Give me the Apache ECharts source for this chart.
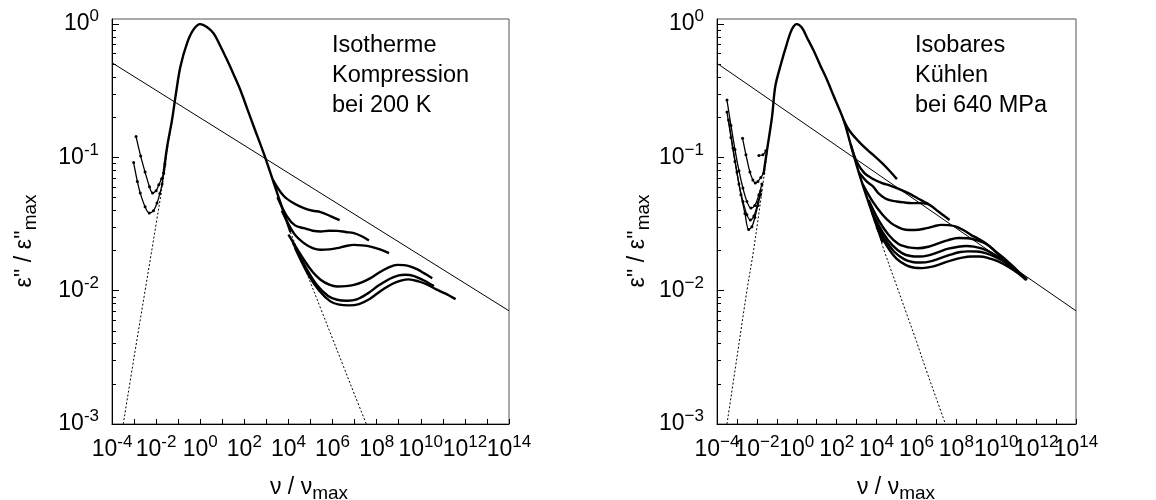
<!DOCTYPE html>
<html><head><meta charset="utf-8">
<script src="https://cdn.jsdelivr.net/npm/echarts@6/dist/echarts.min.js"></script>
<style>html,body{margin:0;padding:0;background:#fff}#c{width:1156px;height:500px}</style>
</head><body><div id="c"></div>
<script>
// All points: [log10(nu/nu_max), log10(eps''/eps''_max)]
// ---- left panel: Isotherme Kompression bei 200 K ----
const leftMaster = [[-1.66,-1.118],[-1.5,-0.92],[-1.28,-0.72],[-1.1,-0.52],[-0.9,-0.32],[-0.6,-0.144],[-0.3,-0.04],[0,0],[0.3,-0.022],[0.61,-0.07],[0.9,-0.16],[1.22,-0.27],[1.52,-0.38],[1.82,-0.494],[2.12,-0.63],[2.43,-0.77],[2.88,-0.97],[3.19,-1.12],[3.49,-1.268],[3.8,-1.42],[4.09,-1.56]];
const leftU1 = [[-2.91,-0.844],[-2.7,-0.99],[-2.5,-1.11],[-2.3,-1.22],[-2.16,-1.268],[-2.0,-1.25],[-1.88,-1.206],[-1.75,-1.16],[-1.66,-1.118]];
const leftU2 = [[-3.02,-1.039],[-2.85,-1.18],[-2.72,-1.268],[-2.5,-1.37],[-2.31,-1.418],[-2.12,-1.4],[-1.96,-1.343],[-1.83,-1.27],[-1.73,-1.2],[-1.6,-1.05]];
const leftA = [[3.3,-1.17],[3.79,-1.29],[4.3,-1.35],[4.7,-1.38],[5.1,-1.4],[5.455,-1.41],[5.9,-1.44],[6.32,-1.47]];
const leftB = [[3.5,-1.3],[3.94,-1.444],[4.3,-1.51],[4.7,-1.531],[5.1,-1.55],[5.455,-1.556],[5.85,-1.55],[6.21,-1.551],[6.6,-1.56],[6.97,-1.568],[7.3,-1.59],[7.65,-1.624]];
const leftC = [[3.7,-1.4],[4.24,-1.568],[4.7,-1.643],[5.1,-1.68],[5.455,-1.693],[5.85,-1.69],[6.21,-1.681],[6.6,-1.665],[6.97,-1.656],[7.35,-1.66],[7.72,-1.669],[8.15,-1.69],[8.56,-1.718]];
const leftD = [[4.0,-1.58],[4.7,-1.768],[5.1,-1.86],[5.455,-1.918],[5.85,-1.955],[6.21,-1.969],[6.6,-1.966],[6.97,-1.956],[7.35,-1.935],[7.72,-1.906],[8.1,-1.865],[8.48,-1.831],[8.94,-1.806],[9.24,-1.808],[9.54,-1.819],[9.85,-1.84],[10.14,-1.868],[10.52,-1.906]];
const leftE = [[4.2,-1.64],[4.8,-1.83],[5.3,-1.96],[5.8,-2.04],[6.2,-2.068],[6.67,-2.075],[7.1,-2.065],[7.6,-2.02],[8.1,-1.96],[8.6,-1.91],[9.0,-1.885],[9.3,-1.88],[9.7,-1.89],[10.1,-1.92],[10.6,-1.965]];
const leftF = [[4.3,-1.68],[4.9,-1.88],[5.4,-2.0],[5.9,-2.08],[6.3,-2.105],[6.75,-2.11],[7.2,-2.1],[7.7,-2.06],[8.2,-2.0],[8.7,-1.95],[9.1,-1.925],[9.45,-1.915],[9.9,-1.93],[10.3,-1.955],[10.7,-1.99],[11.1,-2.02],[11.58,-2.063]];
const leftFit = [[-3.49,-3],[-3.0,-2.5],[-2.5,-2.0],[-2.0,-1.5],[-1.66,-1.15],[-1.5,-0.95],[-1.28,-0.73],[-1.1,-0.53],[-0.9,-0.33],[-0.6,-0.15],[-0.3,-0.042],[0,0],[0.3,-0.024],[0.61,-0.072],[0.9,-0.16],[1.22,-0.27],[1.52,-0.38],[1.82,-0.495],[2.12,-0.63],[2.43,-0.77],[2.88,-0.97],[3.19,-1.12],[3.49,-1.268],[3.8,-1.42],[4.09,-1.56],[4.5,-1.73],[5.0,-1.94],[5.5,-2.15],[6.0,-2.36],[6.5,-2.57],[7.0,-2.78],[7.53,-3]];
const leftPower = [[-4,-0.29],[14,-2.151]];
// ---- right panel: Isobares Kuehlen bei 640 MPa ----
const rightMaster = [[-1.66,-1.118],[-1.49,-0.944],[-1.24,-0.694],[-1.08,-0.469],[-0.83,-0.319],[-0.49,-0.144],[-0.25,-0.04],[0,0],[0.25,-0.025],[0.51,-0.1],[0.85,-0.2],[1.18,-0.31],[1.52,-0.42],[1.85,-0.54],[2.35,-0.72],[2.685,-0.894],[3.02,-1.069],[3.4,-1.25],[3.9,-1.47],[4.3,-1.64]];
const rightL1 = [[-3.5,-0.57],[-3.3,-0.76],[-3.1,-0.94],[-2.9,-1.1],[-2.7,-1.23],[-2.5,-1.33],[-2.3,-1.38],[-2.1,-1.36],[-1.9,-1.28],[-1.75,-1.2]];
const rightL2 = [[-3.5,-0.66],[-3.3,-0.85],[-3.1,-1.03],[-2.9,-1.2],[-2.7,-1.33],[-2.5,-1.43],[-2.33,-1.47],[-2.15,-1.44],[-1.95,-1.34],[-1.8,-1.25]];
const rightL3 = [[-3.42,-0.72],[-3.2,-0.93],[-3.0,-1.11],[-2.8,-1.28],[-2.6,-1.42],[-2.41,-1.54],[-2.25,-1.52],[-2.1,-1.45],[-1.95,-1.36],[-1.82,-1.28]];
const rightL4 = [[-2.72,-0.856],[-2.55,-0.98],[-2.35,-1.11],[-2.2,-1.17],[-2.08,-1.193],[-1.95,-1.18],[-1.8,-1.15],[-1.66,-1.118]];
const rightL5 = [[-1.9,-0.985],[-1.7,-0.98],[-1.55,-0.95]];
const rightR1 = [[2.35,-0.719],[2.645,-0.8],[3.1,-0.88],[3.54,-0.944],[3.9,-0.99],[4.28,-1.043],[4.65,-1.1],[5.02,-1.163]];
const rightR2 = [[2.7,-0.9],[3.0,-1.03],[3.39,-1.118],[3.8,-1.16],[4.28,-1.193],[4.65,-1.21],[5.02,-1.231],[5.4,-1.255],[5.76,-1.281],[6.1,-1.31],[6.51,-1.343],[6.8,-1.37],[7.1,-1.406],[7.4,-1.44],[7.66,-1.469]];
const rightR3 = [[3.1,-1.11],[3.5,-1.18],[3.83,-1.219],[4.1,-1.27],[4.42,-1.306],[4.7,-1.322],[5.02,-1.331],[5.4,-1.338],[5.76,-1.343],[6.2,-1.343],[6.6,-1.35]];
const rightR4 = [[3.3,-1.2],[3.8,-1.33],[4.3,-1.43],[4.73,-1.493],[5.1,-1.525],[5.46,-1.543],[5.9,-1.545],[6.51,-1.531],[6.9,-1.515],[7.25,-1.506],[7.6,-1.508],[7.99,-1.519],[8.35,-1.545],[8.73,-1.581],[9.1,-1.61],[9.47,-1.643],[9.85,-1.69],[10.21,-1.744],[10.6,-1.79],[10.96,-1.843],[11.25,-1.88],[11.55,-1.918]];
const rightR5 = [[3.6,-1.32],[4.1,-1.47],[4.6,-1.58],[5.1,-1.65],[5.6,-1.675],[6.06,-1.681],[6.6,-1.67],[7.1,-1.645],[7.6,-1.62],[8.1,-1.605],[8.58,-1.606],[9.0,-1.62],[9.5,-1.65],[10.0,-1.71],[10.5,-1.77],[11.0,-1.84],[11.5,-1.91]];
const rightR6 = [[3.8,-1.42],[4.3,-1.56],[4.8,-1.66],[5.3,-1.72],[5.7,-1.74],[6.14,-1.744],[6.6,-1.735],[7.1,-1.71],[7.6,-1.685],[8.1,-1.67],[8.5,-1.665],[8.88,-1.669],[9.3,-1.685],[9.8,-1.72],[10.3,-1.77],[10.8,-1.83],[11.3,-1.89]];
const rightR7 = [[3.9,-1.47],[4.4,-1.61],[4.9,-1.71],[5.4,-1.765],[5.8,-1.785],[6.2,-1.789],[6.7,-1.78],[7.2,-1.755],[7.7,-1.73],[8.2,-1.71],[8.6,-1.705],[9.03,-1.706],[9.5,-1.72],[10.0,-1.75],[10.5,-1.79],[11.0,-1.85],[11.4,-1.9]];
const rightR8 = [[4.0,-1.52],[4.5,-1.66],[5.0,-1.76],[5.5,-1.81],[5.9,-1.828],[6.28,-1.831],[6.8,-1.82],[7.3,-1.795],[7.8,-1.77],[8.3,-1.752],[8.75,-1.744],[9.17,-1.744],[9.6,-1.755],[10.1,-1.78],[10.6,-1.82],[11.1,-1.87],[11.5,-1.92]];
const rightFit = [[-3.5,-3],[-3.0,-2.5],[-2.5,-2.0],[-2.16,-1.69],[-1.66,-1.16],[-1.49,-0.96],[-1.24,-0.7],[-1.08,-0.48],[-0.83,-0.325],[-0.49,-0.15],[-0.25,-0.042],[0,0],[0.25,-0.026],[0.51,-0.1],[0.85,-0.2],[1.18,-0.31],[1.52,-0.42],[1.85,-0.54],[2.35,-0.72],[2.685,-0.894],[3.02,-1.069],[3.4,-1.25],[3.9,-1.47],[4.36,-1.69],[5.0,-1.96],[5.5,-2.17],[6.0,-2.38],[6.5,-2.6],[7.0,-2.81],[7.45,-3]];
const rightPower = [[-4,-0.294],[14,-2.151]];
// ---- axes ----
const xLabelExpA = [-4,0,4,8,12];
const xLabelExpB = [-2,2,6,10,14];
const xTickExp = [-4,-3,-2,-1,0,1,2,3,4,5,6,7,8,9,10,11,12,13,14];
const yLabelExp = [-3,-2,-1,0];
const yMinorMant = [2,3,4,5,6,7,8,9];
const annotLeft = ['Isotherme','Kompression','bei 200 K'];
const annotRight = ['Isobares','Kühlen','bei 640 MPa'];

const FONT = '"Liberation Sans", Arial, Helvetica, sans-serif';
const P = a => a.map(p => [Math.pow(10, p[0]), Math.pow(10, p[1])]);
const pow10 = e => Math.pow(10, e);
const yMinorVals = [];
yLabelExp.slice(0, 3).forEach(d => yMinorMant.forEach(m => yMinorVals.push(m * pow10(d))));

const rich = {
  b: {fontSize: 23, fontFamily: FONT, color: '#000'},
  s: {fontSize: 17, fontFamily: FONT, color: '#000', padding: [0, 0, 15, 0]}
};
function fmt(minus) {
  return v => {
    const e = Math.round(Math.log10(v));
    return '{b|10}{s|' + (e < 0 ? minus + Math.abs(e) : String(e)) + '}';
  };
}
const grids = [
  {left: 112, top: 19, width: 397, height: 405},
  {left: 717, top: 19, width: 359, height: 405}
].map(g => Object.assign(g, {show: true, borderColor: '#555', borderWidth: 1, backgroundColor: 'transparent', containLabel: false}));

const xAxes = [], yAxes = [];
[0, 1].forEach(gi => {
  const minus = gi === 0 ? '-' : '\u2212';
  const labelBase = {show: true, formatter: fmt(minus), rich: rich, margin: 10, color: '#000', showMinLabel: true, showMaxLabel: true, hideOverlap: false};
  xAxes.push({
    type: 'log', logBase: 10, gridIndex: gi, min: 1e-4, max: 1e14, position: 'bottom',
    axisLine: {show: true, lineStyle: {color: '#000', width: 1}},
    axisTick: {show: true, inside: true, length: 5, customValues: xTickExp.map(pow10), lineStyle: {color: '#000'}},
    axisLabel: Object.assign({customValues: xLabelExpA.map(pow10)}, labelBase),
    splitLine: {show: false}, minorTick: {show: false}
  });
  xAxes.push({
    type: 'log', logBase: 10, gridIndex: gi, min: 1e-4, max: 1e14, position: 'bottom', offset: 0,
    axisLine: {show: false}, axisTick: {show: false},
    axisLabel: Object.assign({customValues: xLabelExpB.map(pow10)}, labelBase),
    splitLine: {show: false}, minorTick: {show: false}
  });
  yAxes.push({
    type: 'log', logBase: 10, gridIndex: gi, min: 1e-3, max: 1.092,
    axisLine: {show: true, lineStyle: {color: '#000', width: 1}},
    axisTick: {show: true, inside: true, length: 4, customValues: yMinorVals, lineStyle: {color: '#000'}},
    axisLabel: Object.assign({}, labelBase, {customValues: yLabelExp.map(pow10), margin: 13}),
    splitLine: {show: false}
  });
  yAxes.push({
    type: 'log', logBase: 10, gridIndex: gi, min: 1e-3, max: 1.092, position: 'left',
    axisLine: {show: false},
    axisTick: {show: true, inside: true, length: 7, customValues: yLabelExp.map(pow10), lineStyle: {color: '#000'}},
    axisLabel: {show: false}, splitLine: {show: false}
  });
});

function ser(data, gi, kind) {
  const s = {type: 'line', xAxisIndex: gi * 2, yAxisIndex: gi * 2, data: P(data), symbol: 'none', showSymbol: false,
    smooth: 0.35, silent: true, animation: false, clip: true, z: 3,
    lineStyle: {color: '#000', width: 2.4}};
  if (kind === 'thin') { s.lineStyle = {color: '#000', width: 1.3}; s.symbol = 'circle'; s.showSymbol = true; s.symbolSize = 3; s.itemStyle = {color: '#000'}; }
  if (kind === 'fit') { s.lineStyle = {color: '#000', width: 1, type: [2, 2]}; s.z = 2; }
  if (kind === 'power') { s.lineStyle = {color: '#000', width: 1}; s.smooth = false; s.z = 2; }
  return s;
}
const series = [
  ser(leftPower, 0, 'power'), ser(leftFit, 0, 'fit'),
  ser(leftMaster, 0), ser(leftU1, 0, 'thin'), ser(leftU2, 0, 'thin'),
  ser(leftA, 0), ser(leftB, 0), ser(leftC, 0), ser(leftD, 0), ser(leftE, 0), ser(leftF, 0),
  ser(rightPower, 1, 'power'), ser(rightFit, 1, 'fit'),
  ser(rightMaster, 1), ser(rightL1, 1, 'thin'), ser(rightL2, 1, 'thin'), ser(rightL3, 1, 'thin'), ser(rightL4, 1, 'thin'), ser(rightL5, 1, 'thin'),
  ser(rightR1, 1), ser(rightR2, 1), ser(rightR3, 1), ser(rightR4, 1), ser(rightR5, 1), ser(rightR6, 1), ser(rightR7, 1), ser(rightR8, 1)
];

const titleRich = {
  m: {fontSize: 23, fontFamily: FONT, color: '#000'},
  sub: {fontSize: 19, fontFamily: FONT, color: '#000', padding: [12, 0, 0, 0]}
};
function txt(x, y, text) {
  return {type: 'text', x: x, y: y, silent: true,
    style: {text: text, fill: '#000', font: '23px ' + FONT, rich: titleRich, align: 'center', verticalAlign: 'middle'}};
}
const graphic = [
  txt(309, 488, '{m|\u03bd / \u03bd}{sub|max}'),
  txt(896, 488, '{m|\u03bd / \u03bd}{sub|max}'),
  Object.assign(txt(25, 241, "{m|\u03b5'' / \u03b5''}{sub|max}"), {rotation: Math.PI / 2}),
  Object.assign(txt(638, 241, "{m|\u03b5'' / \u03b5''}{sub|max}"), {rotation: Math.PI / 2}),
  {type: 'text', x: 332, y: 31, silent: true, style: {text: annotLeft.join('\n'), fill: '#000', font: '23.5px ' + FONT, lineHeight: 30, align: 'left', verticalAlign: 'top'}},
  {type: 'text', x: 915, y: 31, silent: true, style: {text: annotRight.join('\n'), fill: '#000', font: '23.5px ' + FONT, lineHeight: 30, align: 'left', verticalAlign: 'top'}}
];

const chart = echarts.init(document.getElementById('c'), null, {renderer: 'canvas'});
chart.setOption({animation: false, backgroundColor: '#fff', grid: grids, xAxis: xAxes, yAxis: yAxes, series: series, graphic: graphic});
</script></body></html>
